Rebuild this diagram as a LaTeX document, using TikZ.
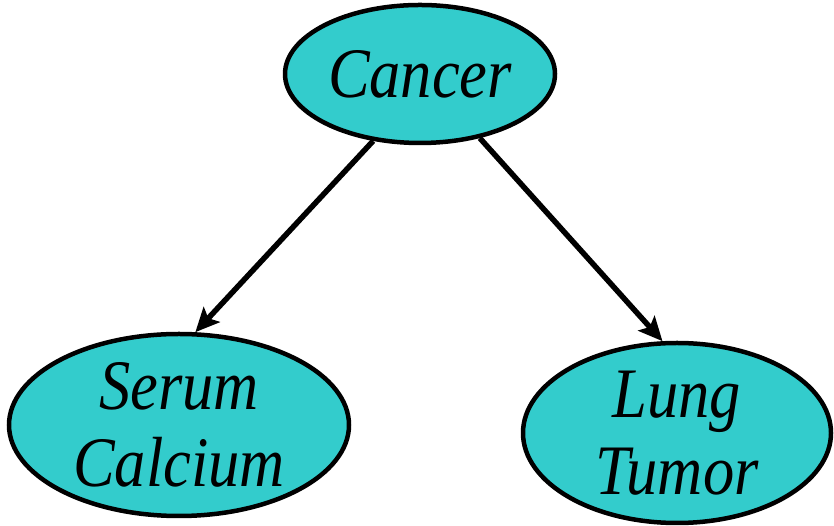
\documentclass[tikz,border=0pt]{standalone}
\usepackage{fontspec}
\usetikzlibrary{shapes.geometric,arrows.meta}
\newfontfamily\lblfont[FakeStretch=0.88]{Liberation Serif}
\definecolor{nodefill}{RGB}{51,204,204}
\begin{document}
\begin{tikzpicture}[x=1pt,y=1pt,
  var/.style={ellipse,draw=black,line width=4.5pt,fill=nodefill,inner sep=0pt,
    align=center,font=\lblfont\itshape\fontsize{71}{77}\selectfont},
  link/.style={line width=5.5pt,-{Stealth[length=24pt,width=22pt,inset=5pt]}}]
  \path[use as bounding box] (0,0) rectangle (834,526);
  \node[var,minimum width=270pt,minimum height=138pt] (c) at (420,452) {Cancer};
  \node[var,minimum width=340pt,minimum height=182pt] (s) at (179,101) {Serum\\Calcium};
  \node[var,minimum width=308pt,minimum height=180pt] (l) at (677,93) {Lung\\Tumor};
  \draw[link] (c.235) -- (s.80);
  \draw[link] (c.313) -- (l.99);
\end{tikzpicture}
\end{document}
